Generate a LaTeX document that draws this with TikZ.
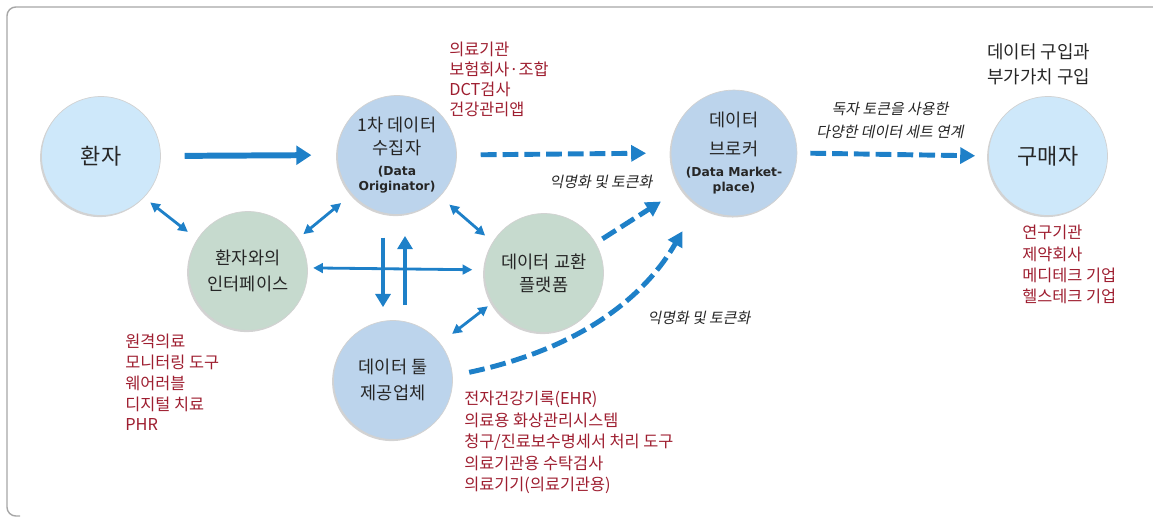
\documentclass[tikz,border=0pt]{standalone}
\usepackage{fontspec}
\setmainfont{Noto Sans CJK KR}
\newfontfamily\engfont{DejaVu Sans}
\newfontfamily\slantfont[FakeSlant=0.2]{Noto Sans CJK KR}
\usetikzlibrary{arrows.meta,shadows}

\definecolor{arrowblue}{RGB}{30,128,200}
\definecolor{redtext}{RGB}{158,30,48}
\definecolor{skyfill}{RGB}{206,232,250}
\definecolor{steelfill}{RGB}{188,212,236}
\definecolor{sagefill}{RGB}{198,218,206}

\newcommand{\tagfont}{\engfont\bfseries\fontsize{7}{8.5}\selectfont}

\begin{document}
\begin{tikzpicture}[x=0.02cm, y=-0.02cm,
    bubble/.style={circle, minimum size=2.38cm, inner sep=0pt, draw=gray!35, line width=0.4pt,
        align=center, text=black!85,
        drop shadow={shadow xshift=-0.8pt, shadow yshift=-0.9pt, opacity=0.35, fill=gray}},
    patient/.style={bubble, fill=skyfill, font=\fontsize{12.5}{15}\selectfont},
    holder/.style={bubble, fill=steelfill},
    hub/.style={bubble, fill=sagefill, font=\fontsize{10}{14.5}\selectfont},
    flow/.style={draw=arrowblue, line width=3.4pt, -{Triangle[length=8.5pt,width=10.5pt]}},
    dashflow/.style={draw=arrowblue, line width=2.8pt, dash pattern=on 9pt off 3.4pt,
        -{Triangle[length=8.5pt,width=9pt]}},
    twoway/.style={draw=arrowblue, line width=1.6pt,
        {Triangle[length=5.5pt,width=5.5pt]}-{Triangle[length=5.5pt,width=5.5pt]}},
    oneway/.style={draw=arrowblue, line width=2.6pt, -{Triangle[length=7.5pt,width=8.5pt]}},
    redlist/.style={text=redtext, font=\fontsize{9.3}{11.8}\selectfont, align=left,
        anchor=north west, inner sep=0pt},
    note/.style={font=\slantfont\fontsize{8.5}{13}\selectfont, inner sep=0pt, text=black!85},
    frame/.style={draw=gray!70, line width=0.8pt, rounded corners=5pt}]

    \useasboundingbox (0,0) rectangle (1153,517);
    \draw[frame] (1153,7) -| (7,516) -- (20,516);

    % Circles
    \node[patient] (pat) at (101,156) {환자};
    \node[holder, font=\fontsize{10}{8.5}\selectfont] (orig) at (397,155)
        {1차 데이터\\[2.8pt]수집자\\[3.4pt]\tagfont (Data\\\tagfont Originator)};
    \node[holder, font=\fontsize{10}{8.5}\selectfont] (broker) at (734,153)
        {데이터\\[6pt]브로커\\[3.4pt]\tagfont (Data Market-\\\tagfont place)};
    \node[patient] (buyer) at (1048,156) {구매자};
    \node[hub] (iface) at (248,271) {환자와의\\인터페이스};
    \node[hub, font=\fontsize{10}{13}\selectfont] (exch) at (544,273) {데이터 교환\\플랫폼};
    \node[holder, font=\fontsize{10}{14.5}\selectfont] (tool) at (393,380) {데이터 툴\\제공업체};

    % Main flows
    \draw[flow, shorten <=13.6pt, shorten >=14.7pt] (pat.east) -- (orig.west);
    \draw[dashflow, shorten <=13.6pt, shorten >=14pt] (orig.east) -- (broker.west);
    \draw[dashflow, shorten <=7.4pt, shorten >=7.4pt] (broker.east) -- (buyer.west);
    \draw[dashflow, shorten <=4.5pt, shorten >=13.9pt] (exch.30) -- (broker.-146);
    \draw[dashflow, shorten <=9.6pt, shorten >=17.3pt] (tool.4) to[out=12, in=240] (broker.-125);

    % Links between the players
    \draw[twoway, shorten <=4.5pt, shorten >=6.8pt] (pat.-44) -- (iface.148);
    \draw[twoway, shorten <=3.8pt, shorten >=7.9pt] (iface.33) -- (orig.-139);
    \draw[twoway, shorten <=7pt, shorten >=5.7pt] (orig.-44) -- (exch.149);
    \draw[twoway, shorten <=3.1pt, shorten >=6.8pt] (iface.3) -- (exch.177);
    \draw[twoway, shorten <=8.6pt, shorten >=3.1pt] (tool.38) -- (exch.-150);
    \draw[oneway, shorten <=13pt, shorten >=7.4pt] ([shift={(-14,0)}]orig.south) -- ([shift={(-10,0)}]tool.north);
    \draw[oneway, shorten <=8.5pt, shorten >=12pt] ([shift={(12,0)}]tool.north) -- ([shift={(8,0)}]orig.south);

    % Labels on the flows
    \node[note] (anon1) at (601,182) {익명화 및 토큰화};
    \node[note] (anon2) at (699,318) {익명화 및 토큰화};
    \node[note, align=center] (linknote) at (890,120) {독자 토큰을 사용한\\다양한 데이터 세트 연계};

    % Examples for each player
    \node[redlist, font=\fontsize{9.3}{11.3}\selectfont] (srclist) at (449,42)
        {의료기관\\보험회사·조합\\DCT검사\\건강관리앱};
    \node[redlist] (devlist) at (125,334)
        {원격의료\\모니터링 도구\\웨어러블\\디지털 치료\\PHR};
    \node[redlist, font=\fontsize{9.3}{12.2}\selectfont] (toollist) at (464,391)
        {전자건강기록(EHR)\\의료용 화상관리시스템\\청구/진료보수명세서 처리 도구\\의료기관용 수탁검사\\의료기기(의료기관용)};
    \node[redlist, font=\fontsize{9.3}{12.1}\selectfont] (buyerlist) at (1022,225)
        {연구기관\\제약회사\\메디테크 기업\\헬스테크 기업};
    \node[redlist, text=black!85, font=\fontsize{10.2}{14.2}\selectfont] (buyergoal) at (987,43)
        {데이터 구입과\\부가가치 구입};
\end{tikzpicture}
\end{document}
